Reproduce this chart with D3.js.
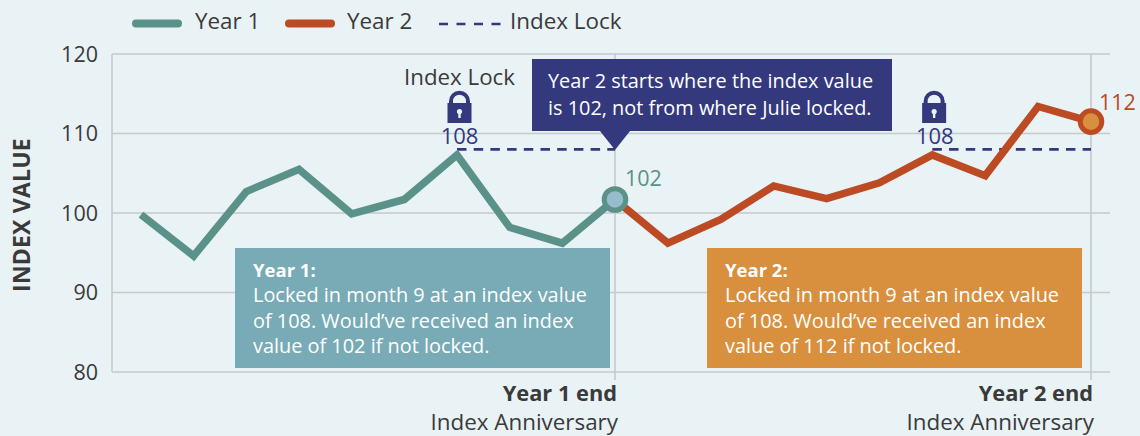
<!DOCTYPE html>
<html><head><meta charset="utf-8">
<script src="https://cdn.jsdelivr.net/npm/d3@7"></script>
<style>
html,body{margin:0;padding:0;background:#e9f2f5;overflow:hidden}
svg{display:block}
text{font-family:"Open Sans",sans-serif}
</style></head><body><svg id="c" width="1140" height="436"></svg>
<script>
const yTicks=[80,90,100,110,120];
const year1=[99.8,94.6,102.7,105.5,99.9,101.7,107.3,98.2,96.2,101.7];
const year2=[101.7,96.2,99.2,103.4,101.8,103.8,107.3,104.7,113.4,111.5];
const lockValue=108;
const legendLabels=["Year 1","Year 2","Index Lock"];
const box1=["Year 1:","Locked in month 9 at an index value","of 108. Would’ve received an index","value of 102 if not locked."];
const box2=["Year 2:","Locked in month 9 at an index value","of 108. Would’ve received an index","value of 112 if not locked."];
const callout=["Year 2 starts where the index value","is 102, not from where Julie locked."];

const teal="#5a9189",rust="#bc4a22",navy="#33397c",ink="#3a3a3a",grid="#c7c9ca";
const svg=d3.select("#c");
const x=d3.scaleLinear().domain([0,9,18]).range([141,615,1091]);
const y=d3.scaleLinear().domain([80,120]).range([372,54]);
const line=d3.line().x(d=>x(d.i)).y(d=>y(d.v));
const s1=year1.map((v,i)=>({i,v})), s2=year2.map((v,i)=>({i:i+9,v}));

// grid
const yAxis=d3.axisLeft(y).tickValues(yTicks).tickSize(0).tickPadding(0);
const ga=svg.append("g").attr("transform","translate(98,0)").call(yAxis);
ga.select(".domain").remove();
ga.selectAll("text").attr("font-size",21.5).attr("fill",ink).attr("dy","0.34em").attr("x",0);
svg.append("g").selectAll("line").data(yTicks).join("line")
  .attr("x1",112).attr("x2",1110).attr("y1",d=>y(d)).attr("y2",d=>y(d))
  .attr("stroke",grid).attr("stroke-width",1.6);
svg.append("line").attr("x1",112).attr("x2",112).attr("y1",y(120)).attr("y2",y(80)).attr("stroke",grid).attr("stroke-width",1.6);
[9,18].forEach(i=>svg.append("line").attr("x1",x(i)).attr("x2",x(i)).attr("y1",y(120)).attr("y2",380).attr("stroke",grid).attr("stroke-width",1.6));

// y title
svg.append("text").attr("transform","translate(30,215) rotate(-90)").attr("text-anchor","middle")
  .attr("font-size",23).attr("font-weight",700).attr("letter-spacing",0.2).attr("fill",ink).text("INDEX VALUE");

// lock dashes
[[6,9],[15,18]].forEach(([a,b])=>svg.append("line").attr("x1",x(a)).attr("x2",x(b)).attr("y1",y(lockValue)).attr("y2",y(lockValue))
  .attr("stroke",navy).attr("stroke-width",2.6).attr("stroke-dasharray","9.5 7.2"));

// boxes
function box(bx,lines,fill){
  svg.append("rect").attr("x",bx).attr("y",248).attr("width",375).attr("height",120).attr("fill",fill);
  lines.forEach((t,k)=>svg.append("text").attr("x",bx+18).attr("y",277+k*25.3).attr("font-size",k==0?18.5:19.9)
    .attr("fill","#fff").attr("font-weight",k==0?700:400).text(t));
}
box(235,box1,"#78abb5");
box(707,box2,"#d8903f");

// series
svg.append("path").datum(s1).attr("d",line).attr("fill","none").attr("stroke",teal).attr("stroke-width",7.5).attr("stroke-linejoin","miter");
svg.append("path").datum(s2).attr("d",line).attr("fill","none").attr("stroke",rust).attr("stroke-width",7.5).attr("stroke-linejoin","miter");

// end markers
svg.append("circle").attr("cx",x(9)).attr("cy",y(year1[9])).attr("r",10.8).attr("fill","#97bccb").attr("stroke",teal).attr("stroke-width",5);
svg.append("circle").attr("cx",x(18)).attr("cy",y(year2[9])).attr("r",10.8).attr("fill","#d8903f").attr("stroke",rust).attr("stroke-width",5);
svg.append("text").attr("x",625).attr("y",186).attr("font-size",21.5).attr("fill",teal).text("102");
svg.append("text").attr("x",1099).attr("y",110).attr("font-size",21.5).attr("fill",rust).text("112");

// locks
function lock(i,off){
  const cx=x(i);
  const g=svg.append("g").attr("transform",`translate(${cx+off},0)`);
  g.append("path").attr("d","M-8.5,104 V101.2 A8.5,8.5 0 0 1 8.5,101.2 V104").attr("fill","none").attr("stroke",navy).attr("stroke-width",4);
  g.append("rect").attr("x",-12).attr("y",103).attr("width",24).attr("height",20).attr("fill",navy);
  g.append("circle").attr("cy",111.5).attr("r",2.6).attr("fill","#e9f2f5");
  g.append("rect").attr("x",-1.2).attr("y",111.5).attr("width",2.4).attr("height",6.5).attr("fill","#e9f2f5");
  svg.append("text").attr("x",cx+2.5).attr("y",144).attr("text-anchor","middle").attr("font-size",22).attr("fill",navy).text(lockValue);
}
lock(6,2.5);lock(15,1.8);
svg.append("text").attr("x",459.5).attr("y",85).attr("text-anchor","middle").attr("font-size",22.3).attr("fill",ink).text("Index Lock");

// callout
svg.append("path").attr("d",`M532,59 H892 V131 H630 L${x(9)},150 L600,131 H532 Z`).attr("fill",navy);
callout.forEach((t,k)=>svg.append("text").attr("x",548).attr("y",88+k*27).attr("font-size",19.9).attr("fill","#fff").text(t));

// x labels
[[9,"Year 1 end"],[18,"Year 2 end"]].forEach(([i,t])=>{
  svg.append("text").attr("x",x(i)+2).attr("y",401).attr("text-anchor","end").attr("font-size",21.8).attr("font-weight",700).attr("fill",ink).text(t);
  svg.append("text").attr("x",x(i)+3).attr("y",430).attr("text-anchor","end").attr("font-size",22.4).attr("fill",ink).text("Index Anniversary");
});

// legend
const lg=svg.append("g");
lg.append("line").attr("x1",136).attr("x2",178).attr("y1",23.5).attr("y2",23.5).attr("stroke",teal).attr("stroke-width",8).attr("stroke-linecap","round");
lg.append("text").attr("x",195).attr("y",29).attr("font-size",22.4).attr("fill",ink).text(legendLabels[0]);
lg.append("line").attr("x1",289).attr("x2",331).attr("y1",23.5).attr("y2",23.5).attr("stroke",rust).attr("stroke-width",8).attr("stroke-linecap","round");
lg.append("text").attr("x",347).attr("y",29).attr("font-size",22.4).attr("fill",ink).text(legendLabels[1]);
lg.append("line").attr("x1",439).attr("x2",502).attr("y1",24).attr("y2",24).attr("stroke",navy).attr("stroke-width",2.6).attr("stroke-dasharray","9 8.5");
lg.append("text").attr("x",510).attr("y",29).attr("font-size",22.4).attr("fill",ink).text(legendLabels[2]);
</script></body></html>
